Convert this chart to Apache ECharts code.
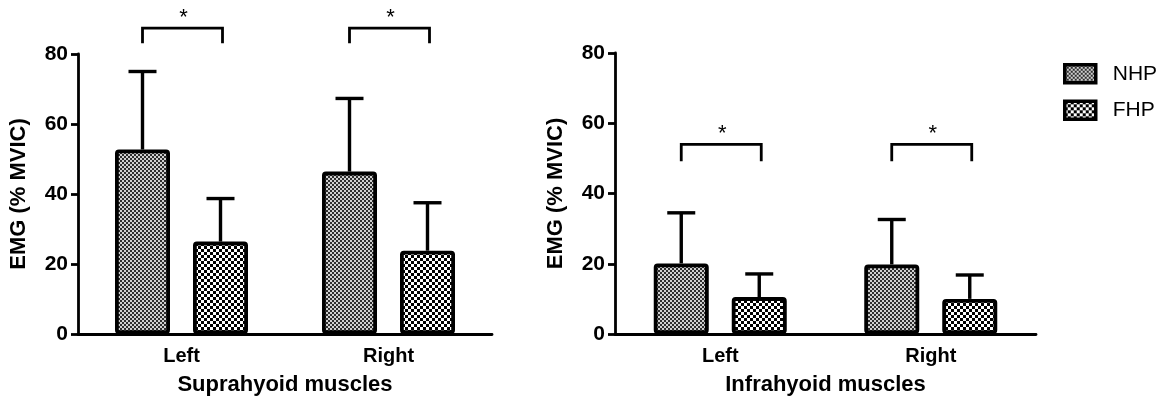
<!DOCTYPE html>
<html>
<head>
<meta charset="utf-8">
<script src="https://cdn.jsdelivr.net/npm/echarts@6/dist/echarts.min.js"></script>
<style>html,body{margin:0;padding:0;background:#fff}#c{width:1160px;height:401px}</style>
</head>
<body>
<div id="c"></div>
<script>
// ---- data ----
const categories = ['Left', 'Right'];
const seriesNames = ['NHP', 'FHP'];
const supraNHP = [52.7, 46.4];
const supraNHPsd = [22.3, 20.9];
const supraFHP = [26.4, 23.8];
const supraFHPsd = [12.3, 13.7];
const infraNHP = [20.1, 19.8];
const infraNHPsd = [14.4, 12.8];
const infraFHP = [10.5, 10.0];
const infraFHPsd = [6.6, 6.8];
// significance brackets: [category index, leg bottom value, bar value]
const supraSig = [[0, 83.1, 87.4], [1, 83.1, 87.4]];
const infraSig = [[0, 49.2, 54.0], [1, 49.2, 54.0]];
const yTicks = [0, 20, 40, 60, 80];
const xTitles = ['Suprahyoid muscles', 'Infrahyoid muscles'];
const yTitle = 'EMG (% MVIC)';

// ---- style ----
const FONT = "'Liberation Sans', Arial, Helvetica, sans-serif";
const BAR_W = 55;
const GAP_PX = 23;
const HALF = (BAR_W + GAP_PX) / 2;

function makePattern(cell, c1, c2) {
  const cv = document.createElement('canvas');
  cv.width = cv.height = cell * 2;
  const ctx = cv.getContext('2d');
  ctx.fillStyle = c2; ctx.fillRect(0, 0, cell * 2, cell * 2);
  ctx.fillStyle = c1;
  ctx.fillRect(0, 0, cell, cell);
  ctx.fillRect(cell, cell, cell, cell);
  return cv;
}
const patNHP = { image: makePattern(2, '#2e2e2e', '#d0d0d0'), repeat: 'repeat' };
const patFHP = { image: makePattern(3, '#000000', '#ffffff'), repeat: 'repeat' };

function barSeries(name, data, gi, pat) {
  return {
    type: 'bar', name, data, xAxisIndex: gi, yAxisIndex: gi,
    barWidth: BAR_W, barGap: (GAP_PX / BAR_W * 100) + '%',
    itemStyle: { color: pat, borderColor: '#000', borderWidth: 3.8, borderRadius: 2 },
    emphasis: { disabled: true }, z: 2
  };
}
function errSeries(means, sds, gi, side) {
  return {
    type: 'custom', xAxisIndex: gi, yAxisIndex: gi, z: 3, silent: true,
    data: means.map((m, i) => [i, m, sds[i]]),
    renderItem: function (params, api) {
      const x = api.value(0), m = api.value(1), s = api.value(2);
      const p0 = api.coord([x, m]);
      const p1 = api.coord([x, m + s]);
      const cx = p0[0] + side * HALF;
      const st = { stroke: '#000', lineWidth: 3.4, fill: null };
      return {
        type: 'group', children: [
          { type: 'line', shape: { x1: cx, y1: p0[1], x2: cx, y2: p1[1] }, style: st },
          { type: 'line', shape: { x1: cx - 14, y1: p1[1], x2: cx + 14, y2: p1[1] }, style: st }
        ]
      };
    }
  };
}
function sigSeries(sig, gi) {
  return {
    type: 'custom', xAxisIndex: gi, yAxisIndex: gi, z: 3, silent: true, clip: false,
    data: sig,
    renderItem: function (params, api) {
      const x = api.value(0), lo = api.value(1), hi = api.value(2);
      const pl = api.coord([x, lo]);
      const ph = api.coord([x, hi]);
      const xl = pl[0] - 39, xr = pl[0] + 41;
      return {
        type: 'group', children: [
          { type: 'polyline', shape: { points: [[xl, pl[1]], [xl, ph[1]], [xr, ph[1]], [xr, pl[1]]] },
            style: { stroke: '#000', lineWidth: 2.8, fill: null } },
          { type: 'text', x: pl[0] + 2, y: ph[1] + 1,
            style: { text: '*', fill: '#000', font: '22px ' + FONT, align: 'center', verticalAlign: 'bottom' } }
        ]
      };
    }
  };
}

const axisLineStyle = { color: '#000', width: 2.8 };
function xAx(gi) {
  return {
    type: 'category', gridIndex: gi, data: categories,
    axisLine: { lineStyle: axisLineStyle },
    axisTick: { alignWithLabel: true, length: 7, lineStyle: axisLineStyle },
    axisLabel: { color: '#000', fontWeight: 'bold', fontSize: 20, fontFamily: FONT, margin: 12 },
    name: xTitles[gi], nameLocation: 'middle', nameGap: 40,
    nameTextStyle: { color: '#000', fontWeight: 'bold', fontSize: 22, fontFamily: FONT }
  };
}
function yAx(gi) {
  return {
    type: 'value', gridIndex: gi, min: yTicks[0], max: yTicks[yTicks.length - 1],
    interval: yTicks[1] - yTicks[0],
    axisLine: { show: true, lineStyle: axisLineStyle },
    axisTick: { show: true, length: 7, lineStyle: axisLineStyle },
    splitLine: { show: false },
    axisLabel: { color: '#000', fontWeight: 'bold', fontSize: 21, fontFamily: FONT, margin: 10 },
    name: yTitle, nameLocation: 'middle', nameGap: 48,
    nameTextStyle: { color: '#000', fontWeight: 'bold', fontSize: 22, fontFamily: FONT }
  };
}

const chart = echarts.init(document.getElementById('c'), null, { renderer: 'canvas' });
chart.setOption({
  animation: false,
  backgroundColor: '#fff',
  grid: [
    { left: 78, top: 54, width: 414, height: 280 },
    { left: 615, top: 53, width: 421, height: 283 }
  ],
  xAxis: [xAx(0), xAx(1)],
  yAxis: [yAx(0), yAx(1)],
  legend: {
    data: seriesNames, orient: 'vertical', left: 1063, top: 63, padding: 0,
    itemWidth: 31, itemHeight: 18, itemGap: 15, icon: 'rect',
    itemStyle: { borderColor: '#000', borderWidth: 3.5 },
    textStyle: { color: '#000', fontSize: 21, fontFamily: FONT, padding: [0, 0, 0, 12] },
    selectedMode: false
  },
  series: [
    barSeries(seriesNames[0], supraNHP, 0, patNHP),
    barSeries(seriesNames[1], supraFHP, 0, patFHP),
    barSeries(seriesNames[0], infraNHP, 1, patNHP),
    barSeries(seriesNames[1], infraFHP, 1, patFHP),
    errSeries(supraNHP, supraNHPsd, 0, -1),
    errSeries(supraFHP, supraFHPsd, 0, 1),
    errSeries(infraNHP, infraNHPsd, 1, -1),
    errSeries(infraFHP, infraFHPsd, 1, 1),
    sigSeries(supraSig, 0),
    sigSeries(infraSig, 1)
  ]
});
</script>
</body>
</html>
